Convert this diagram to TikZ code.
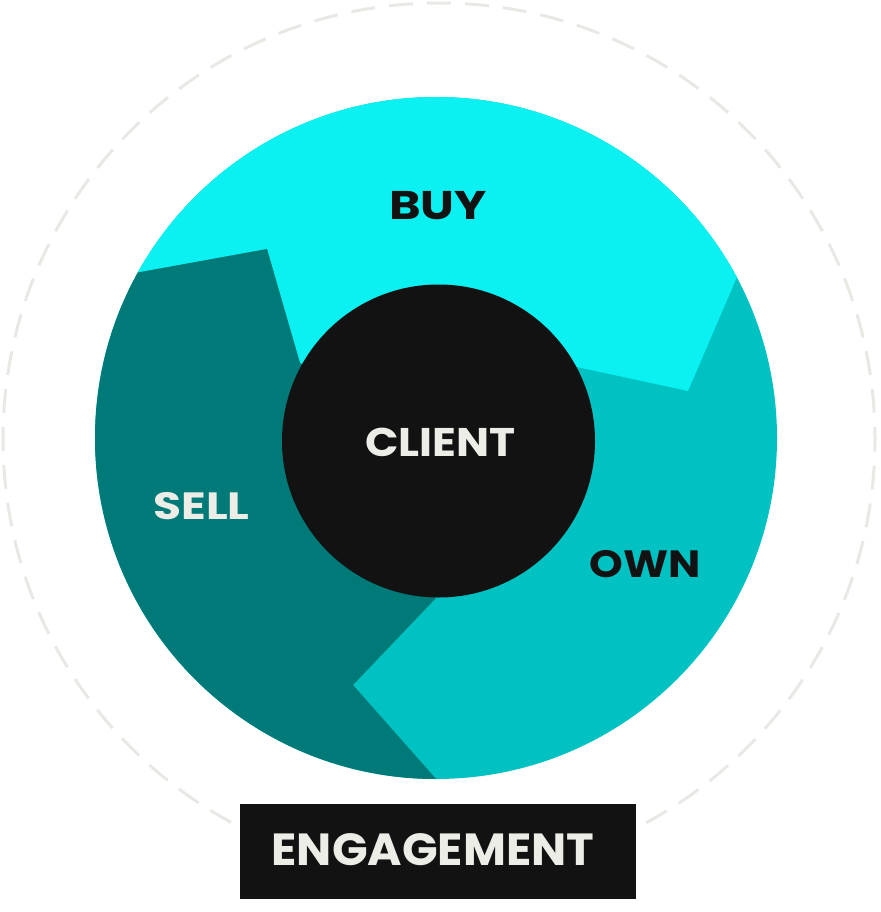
\documentclass[tikz,border=0pt]{standalone}
\usepackage{fontspec}
\setmainfont{Poppins}
\definecolor{buycol}{HTML}{0BF0F0}
\definecolor{owncol}{HTML}{00C2C2}
\definecolor{sellcol}{HTML}{007A78}
\definecolor{ink}{HTML}{121212}
\definecolor{paper}{HTML}{EDEDE8}
\definecolor{dashgray}{HTML}{E8E8E4}
\tikzset{
  lbl/.style={anchor=base, inner sep=0pt, font=\bfseries\fontsize{38}{38}\selectfont},
}
\begin{document}
\begin{tikzpicture}[x=1pt,y=-1pt]
\useasboundingbox (0,0) rectangle (880,912);
% outer dashed ring
\draw[dashgray, line width=3pt, dash pattern=on 24pt off 14.04pt, dash phase=11.7pt]
  (439,439) circle [radius=436pt];
% wheel
\fill[owncol] (436,438) circle [radius=341pt];
\begin{scope}
  \clip (436,438) circle [radius=341pt];
  \fill[buycol] (135,273) -- (267,249) -- (300,363) -- (438,441) -- (577,367)
    -- (688,391) -- (737,277) -- (760,-10) -- (110,-10) -- cycle;
  \fill[sellcol] (135,273) -- (267,249) -- (300,363) -- (438,441) -- (436,598)
    -- (353,685) -- (437,780) -- (437,820) -- (50,820) -- (50,290) -- cycle;
\end{scope}
\fill[ink] (438.5,441) circle [radius=156.5pt];
% labels
\node[lbl, text=ink, xscale=1.2, font=\bfseries\fontsize{40}{40}\selectfont] (buy) at (438,219) {BUY};
\node[lbl, text=paper, xscale=1.1, font=\bfseries\fontsize{40}{40}\selectfont] (client) at (440.5,456) {CLIENT};
\node[lbl, text=paper, xscale=1.2] (sell) at (201.5,519) {SELL};
\node[lbl, text=ink, xscale=1.13] (own) at (645.5,577) {OWN};
% engagement box
\fill[ink] (240,804) rectangle (636,899);
\node[lbl, text=paper, xscale=1.04, font=\bfseries\fontsize{45}{45}\selectfont] (eng) at (433,865) {ENGAGEMENT};
\end{tikzpicture}
\end{document}
